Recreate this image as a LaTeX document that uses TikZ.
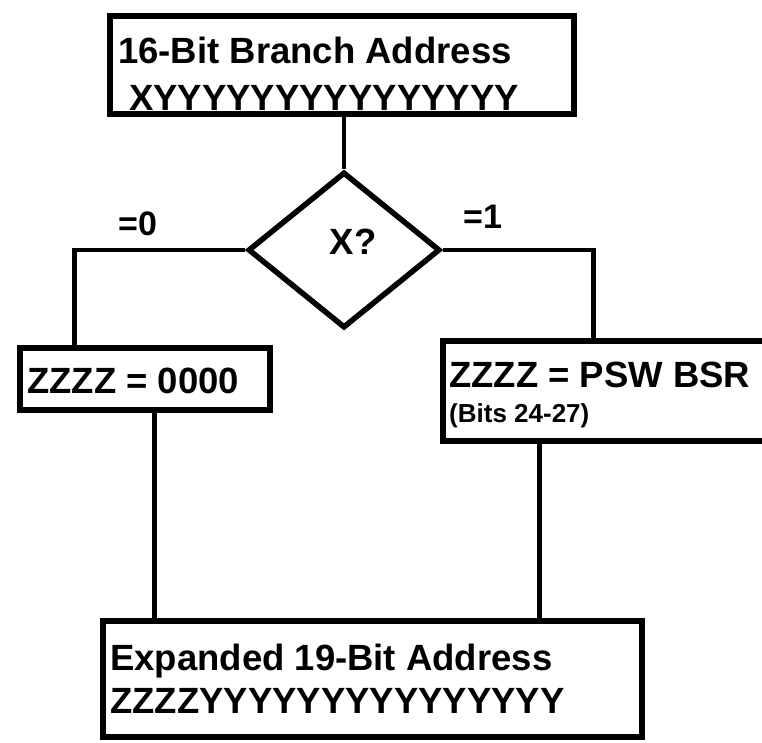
\documentclass[tikz,border=0pt]{standalone}
\usepackage{fontspec}
\setmainfont{Liberation Sans}
\usepackage{tikz}
\usetikzlibrary{shapes.geometric}

\begin{document}
\begin{tikzpicture}[x=1pt,y=-1pt,
  tx/.style={font=\bfseries\fontsize{36.5}{44}\selectfont,anchor=base west,inner sep=0pt},
  lb/.style={tx,font=\bfseries\fontsize{34}{40}\selectfont},
  sm/.style={tx,font=\bfseries\fontsize{26}{30}\selectfont},
  bx/.style={draw,line width=5.5pt,inner sep=0pt},
  ln/.style={line width=4.5pt}]
 \useasboundingbox (0,0) rectangle (762,742);
 \clip (0,0) rectangle (762,742);
 \node[bx,minimum width=464pt,minimum height=98pt] (addr) at (342,65) {};
 \node[bx,diamond,minimum width=192pt,minimum height=156pt] (test) at (344,250) {};
 \node[bx,minimum width=250pt,minimum height=62pt] (zero) at (145,379) {};
 \node[bx,minimum width=347pt,minimum height=100pt] (psw) at (616.5,391) {};
 \node[bx,minimum width=539pt,minimum height=116pt] (exp) at (372.5,679) {};
 \node[tx] (addrA) at (118,63) {16-Bit Branch Address};
 \node[tx] (addrB) at (129,110) {XYYYYYYYYYYYYYYY};
 \node[tx,anchor=center] (testq) at (353,242) {X?};
 \node[lb] (bit0) at (118,235) {=0};
 \node[lb] (bit1) at (463,228) {=1};
 \node[tx] (zeroA) at (27,393) {ZZZZ = 0000};
 \node[tx] (pswA) at (449,387) {ZZZZ = PSW BSR};
 \node[sm] (pswB) at (449,422) {(Bits 24-27)};
 \node[tx] (expA) at (110,670) {Expanded 19-Bit Address};
 \node[tx] (expB) at (110,713) {ZZZZYYYYYYYYYYYYYYY};
 \coordinate (ldown) at ([xshift=137pt]zero.south west);
 \coordinate (rdown) at ([xshift=99pt]psw.south west);
 \draw[ln] (test.north |- addr.south) -- (test.north);
 \draw[ln] (test.west) -| ([xshift=57pt]zero.north west); \draw[ln] (test.east) -| ([xshift=153pt]psw.north west);
 \draw[ln] (ldown) -- (ldown |- exp.north); \draw[ln] (rdown) -- (rdown |- exp.north);
\end{tikzpicture}
\end{document}
